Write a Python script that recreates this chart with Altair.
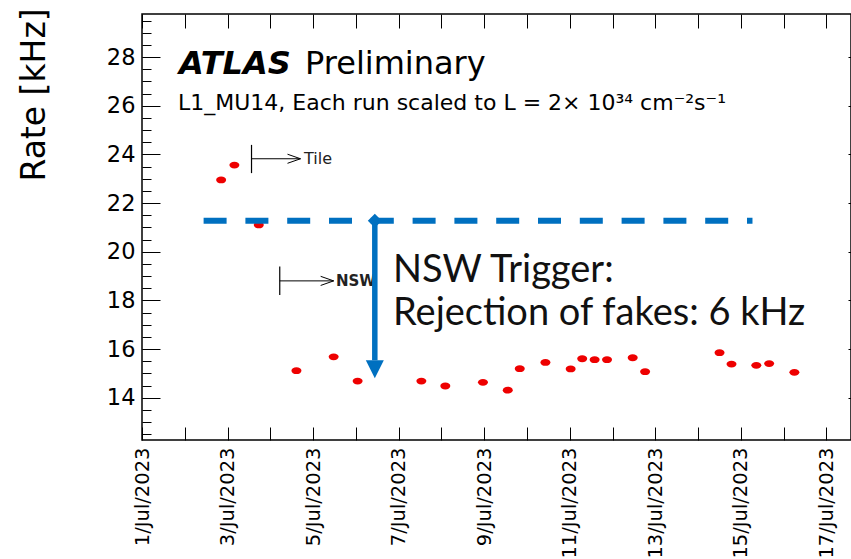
import altair as alt
import pandas as pd

# ---- data (day of July 2023, rate in kHz) ----
day_of_july = [2.85, 3.16, 3.73, 4.61, 5.48, 6.04, 7.53, 8.09, 8.97, 9.55, 9.83, 10.43,
               11.02, 11.29, 11.58, 11.87, 12.47, 12.76, 14.50, 14.78, 15.36, 15.66, 16.25]
rate_khz = [22.95, 23.56, 21.10, 15.11, 15.68, 14.68, 14.68, 14.48, 14.63, 14.31, 15.19, 15.45,
            15.18, 15.60, 15.56, 15.56, 15.64, 15.07, 15.85, 15.38, 15.33, 15.40, 15.04]

x_tick_days = [1, 2, 3, 4, 5, 6, 7, 8, 9, 10, 11, 12, 13, 14, 15, 16, 17]
y_major = [14, 16, 18, 20, 22, 24, 26, 28]
y_minor = [12.5, 13, 13.5, 14, 14.5, 15, 15.5, 16, 16.5, 17, 17.5, 18, 18.5, 19, 19.5, 20,
           20.5, 21, 21.5, 22, 22.5, 23, 23.5, 24, 24.5, 25, 25.5, 26, 26.5, 27, 27.5, 28,
           28.5, 29, 29.5]

# annotation levels (data space)
nsw_level = 21.27        # dashed line / top of arrow
arrow_tip = 14.80
arrow_base = 15.54
dash_x = [2.44, 15.27]
arrow_x = 6.442
tile_mark = dict(x=3.56, x2=4.705, y=23.82, ylo=23.23, yhi=24.39)
nsw_mark = dict(x=4.22, x2=5.48, y=18.80, ylo=18.22, yhi=19.39)

W, H = 709, 426
XDOM = [1.0, 17.573]
YDOM = [12.26, 29.77]
BLUE = "#0070C0"
FONT = "DejaVu Sans"

df = pd.DataFrame({"day": day_of_july, "rate": rate_khz})
xs = alt.Scale(domain=XDOM, nice=False, zero=False)
ys = alt.Scale(domain=YDOM, nice=False, zero=False)


def axis_layer(xaxis=None, yaxis=None):
    return alt.Chart(df).mark_point(opacity=0).encode(
        x=alt.X("day:Q", scale=xs, axis=xaxis),
        y=alt.Y("rate:Q", scale=ys, axis=yaxis),
    )


common = dict(grid=False, domain=False, title=None)

x_labels = axis_layer(xaxis=alt.Axis(
    orient="bottom", values=x_tick_days, ticks=False, tickSize=0, labelPadding=7,
    labelExpr="datum.value % 2 == 1 ? datum.value + '/Jul/2023' : ''",
    labelAngle=270, labelFont=FONT, labelFontSize=19.5, labelColor="black",
    labelOverlap=False, labelFlush=False, **common))
x_ticks_bottom = axis_layer(xaxis=alt.Axis(
    orient="top", offset=-H, values=x_tick_days, labels=False, tickSize=13,
    tickColor="black", tickWidth=1, **common))
x_ticks_top = axis_layer(xaxis=alt.Axis(
    orient="bottom", offset=-H, values=x_tick_days, labels=False, tickSize=14,
    tickColor="black", tickWidth=1, **common))
y_labels = axis_layer(yaxis=alt.Axis(
    orient="left", values=y_major, ticks=False, tickSize=0, labelPadding=7,
    labelFont=FONT, labelFontSize=22.5, labelColor="black", labelOverlap=False,
    labelFlush=False, **common))
y_major_ticks = axis_layer(yaxis=alt.Axis(
    orient="right", offset=-W, values=y_major, labels=False, tickSize=18,
    tickColor="black", tickWidth=1, **common))
y_minor_ticks = axis_layer(yaxis=alt.Axis(
    orient="right", offset=-W, values=y_minor, labels=False, tickSize=9,
    tickColor="black", tickWidth=1, **common))
y_right_ticks = axis_layer(yaxis=alt.Axis(
    orient="left", offset=-W, values=y_major, labels=False, tickSize=3,
    tickColor="black", tickWidth=1, **common))

ellipse = "M-1,0A1,0.68,0,1,0,1,0A1,0.68,0,1,0,-1,0Z"
points = alt.Chart(df).mark_point(shape=ellipse, filled=True, color="#ee0000",
                                  size=100, opacity=1).encode(
    x=alt.X("day:Q", scale=xs, axis=None),
    y=alt.Y("rate:Q", scale=ys, axis=None),
)


def rule_layer(rows, **mark):
    d = pd.DataFrame(rows)
    enc = dict(x=alt.X("x:Q", scale=xs, axis=None), y=alt.Y("y:Q", scale=ys, axis=None))
    if "x2" in d.columns:
        enc["x2"] = "x2:Q"
    if "y2" in d.columns:
        enc["y2"] = "y2:Q"
    return alt.Chart(d).mark_rule(**mark).encode(**enc)


def sym_layer(rows, **mark):
    d = pd.DataFrame(rows)
    return alt.Chart(d).mark_point(opacity=1, **mark).encode(
        x=alt.X("x:Q", scale=xs, axis=None), y=alt.Y("y:Q", scale=ys, axis=None))


# black "|-->" markers
black_h = rule_layer([{"x": tile_mark["x"], "x2": tile_mark["x2"], "y": tile_mark["y"]},
                      {"x": nsw_mark["x"], "x2": nsw_mark["x2"], "y": nsw_mark["y"]}],
                     color="black", strokeWidth=1)
black_v = rule_layer([{"x": tile_mark["x"], "y": tile_mark["ylo"], "y2": tile_mark["yhi"]},
                      {"x": nsw_mark["x"], "y": nsw_mark["ylo"], "y2": nsw_mark["yhi"]}],
                     color="black", strokeWidth=1.2)
chevrons = sym_layer([{"x": tile_mark["x2"], "y": tile_mark["y"]},
                      {"x": nsw_mark["x2"], "y": nsw_mark["y"]}],
                     shape="M-2,-0.7L0,0L-2,0.7", filled=False, stroke="black",
                     strokeWidth=1, size=169)


def text_at(txt, px, py, **mark):
    return alt.Chart(pd.DataFrame({"t": [txt]})).mark_text(**mark).encode(
        text="t:N", x=alt.value(px), y=alt.value(py))


tile_txt = text_at("Tile", 162, 145, align="left", baseline="middle", font=FONT,
                   fontSize=16, color="#222222")
nsw_txt = text_at("NSW", 194, 267, align="left", baseline="middle", font=FONT,
                  fontSize=15, fontWeight="bold", color="#222222")

# blue NSW annotation
dashed = rule_layer([{"x": dash_x[0], "x2": dash_x[1], "y": nsw_level}],
                    color=BLUE, strokeWidth=6, strokeDash=[23, 18.8])
arrow_line = rule_layer([{"x": arrow_x, "y": nsw_level, "y2": arrow_base}],
                        color=BLUE, strokeWidth=5.5)
arrow_head = sym_layer([{"x": arrow_x, "y": arrow_tip}], shape="M-1,-2L1,-2L0,0Z",
                       filled=True, color=BLUE, size=324)
diamond = sym_layer([{"x": arrow_x, "y": nsw_level}], shape="M-1,0L0,-1L1,0L0,1Z",
                    filled=True, color=BLUE, size=196)

ann1 = text_at("NSW Trigger:", 251, 268, align="left", baseline="alphabetic",
               font="Lato", fontSize=38, color="#111111")
ann2 = text_at("Rejection of fakes: 6 kHz", 251, 311, align="left", baseline="alphabetic",
               font="Lato", fontSize=38, color="#111111")

atlas = text_at("ATLAS", 37, 60, align="left", baseline="alphabetic", font=FONT,
                fontSize=32, fontWeight="bold", fontStyle="italic", color="black")
prelim = text_at("Preliminary", 163, 60, align="left", baseline="alphabetic", font=FONT,
                 fontSize=32, color="black")
subtitle = text_at("L1_MU14, Each run scaled to L = 2\u00d7 10\u00b3\u2074 cm\u207b\u00b2s\u207b\u00b9",
                   36, 96, align="left", baseline="alphabetic", font=FONT, fontSize=22,
                   color="black")
ytitle = text_at("Rate [kHz]", -97, 81, align="center", baseline="alphabetic", font=FONT,
                 fontSize=33, angle=270, color="black")

chart = alt.layer(
    x_labels, x_ticks_bottom, x_ticks_top, y_labels, y_major_ticks, y_minor_ticks,
    y_right_ticks,
    black_h, black_v, chevrons, tile_txt, nsw_txt,
    points,
    dashed, arrow_line, arrow_head, diamond,
    ann1, ann2, atlas, prelim, subtitle, ytitle,
).resolve_axis(x="independent", y="independent").properties(
    width=W, height=H,
    autosize=alt.AutoSizeParams(type="none"),
    padding={"left": 142, "top": 14, "right": 0, "bottom": 119},
    background="white",
).configure_view(stroke="black", strokeWidth=1.5)

chart.save("out.html", embed_options={"renderer": "svg", "actions": False})
